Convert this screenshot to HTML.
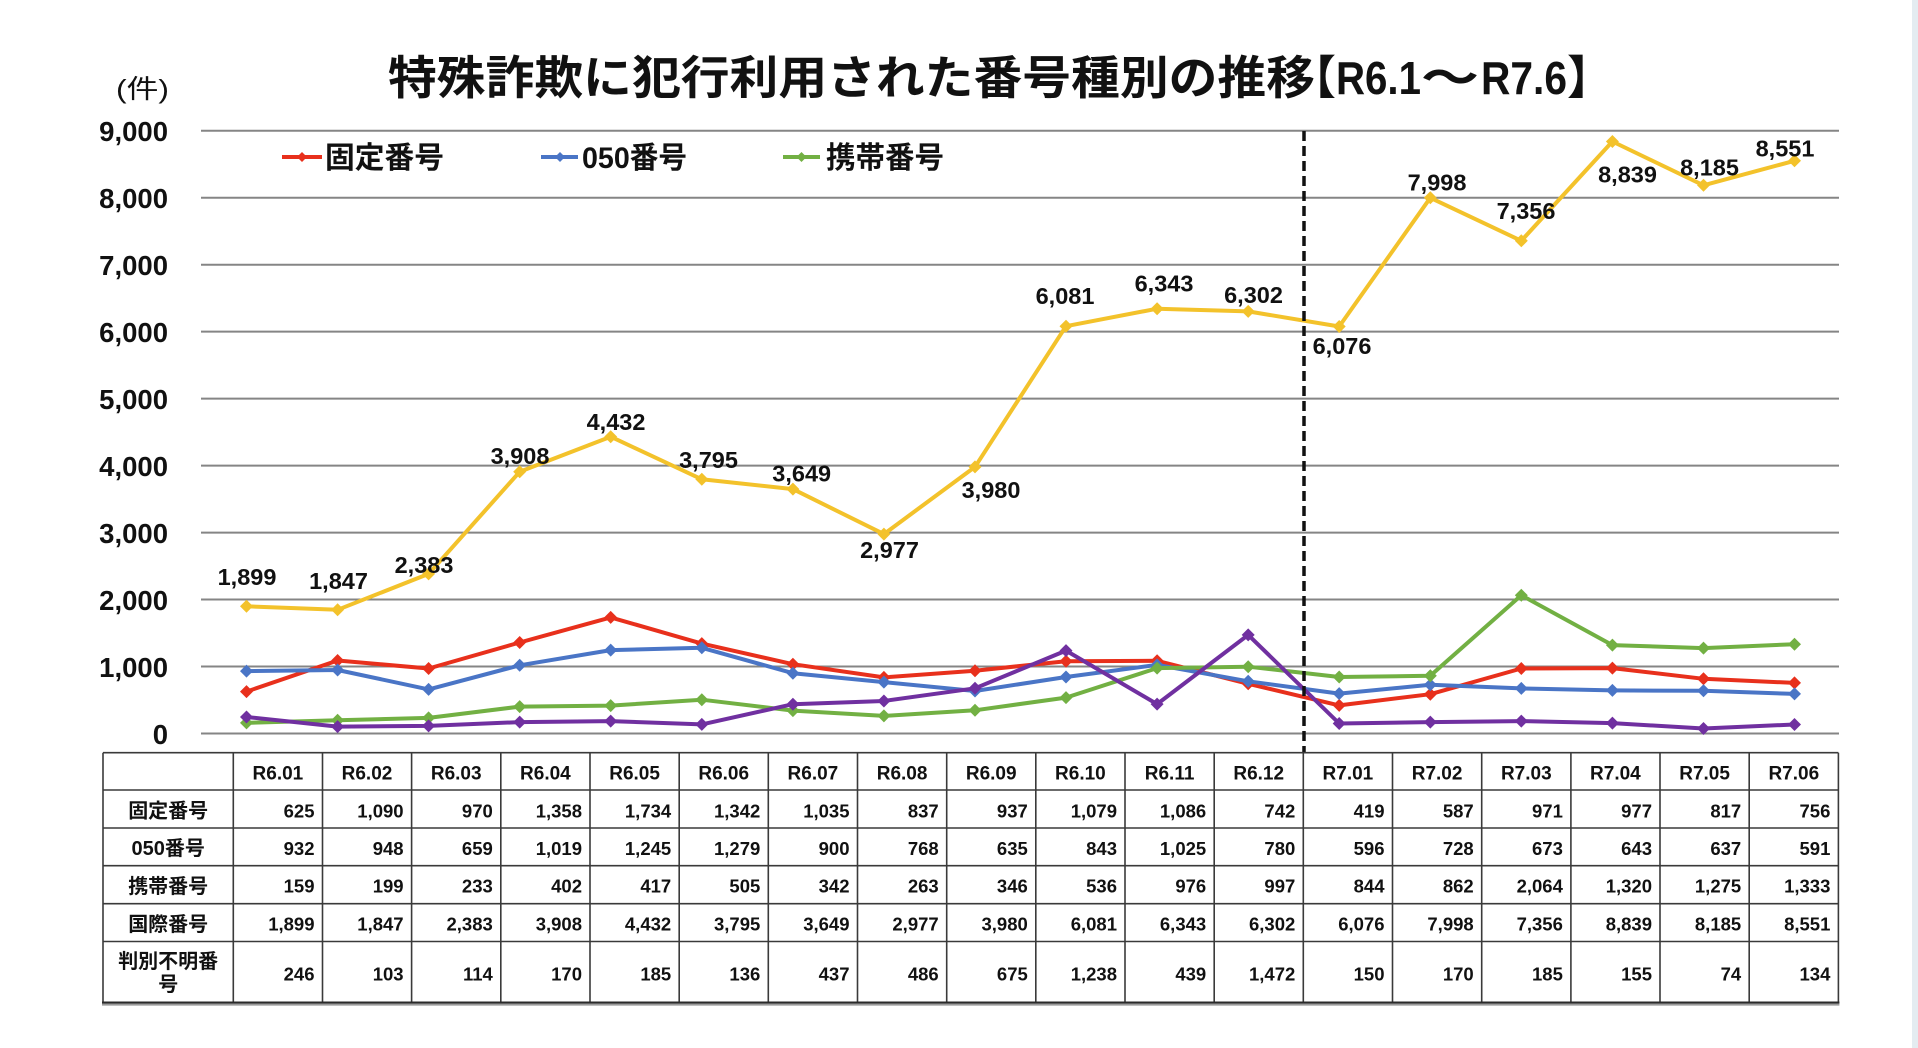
<!DOCTYPE html>
<html><head><meta charset="utf-8"><style>
html,body{margin:0;padding:0;background:#fff;}
svg{display:block;}
text{font-family:"Liberation Sans","Noto Sans CJK JP",sans-serif;fill:#111;}
.b{font-weight:bold;}
</style></head><body>
<svg width="1918" height="1048" viewBox="0 0 1918 1048" xmlns="http://www.w3.org/2000/svg">
<defs>
<marker id="mr" markerWidth="14" markerHeight="14" refX="7" refY="7" markerUnits="userSpaceOnUse" overflow="visible"><path d="M7 0.5L13.5 7L7 13.5L0.5 7Z" fill="#e8301c"/></marker>
<marker id="mb" markerWidth="14" markerHeight="14" refX="7" refY="7" markerUnits="userSpaceOnUse" overflow="visible"><path d="M7 0.5L13.5 7L7 13.5L0.5 7Z" fill="#4a75c6"/></marker>
<marker id="mg" markerWidth="14" markerHeight="14" refX="7" refY="7" markerUnits="userSpaceOnUse" overflow="visible"><path d="M7 0.5L13.5 7L7 13.5L0.5 7Z" fill="#72b043"/></marker>
<marker id="my" markerWidth="14" markerHeight="14" refX="7" refY="7" markerUnits="userSpaceOnUse" overflow="visible"><path d="M7 0.5L13.5 7L7 13.5L0.5 7Z" fill="#f3c22b"/></marker>
<marker id="mp" markerWidth="14" markerHeight="14" refX="7" refY="7" markerUnits="userSpaceOnUse" overflow="visible"><path d="M7 0.5L13.5 7L7 13.5L0.5 7Z" fill="#7030a0"/></marker>
</defs>
<rect x="0" y="0" width="1918" height="1048" fill="#fff"/>
<rect x="1912" y="0" width="6" height="1048" fill="#e4ecf1"/>

<!-- Title -->
<text class="b" x="388" y="94" font-size="46" textLength="927" lengthAdjust="spacingAndGlyphs">特殊詐欺に犯行利用された番号種別の推移</text>
<text class="b" x="1290" y="94" font-size="46">【</text>
<text class="b" x="1336" y="94" font-size="46" textLength="85" lengthAdjust="spacingAndGlyphs">R6.1</text>
<text class="b" x="1421" y="94" font-size="46" textLength="58" lengthAdjust="spacingAndGlyphs">～</text>
<text class="b" x="1481" y="94" font-size="46" textLength="86" lengthAdjust="spacingAndGlyphs">R7.6</text>
<text class="b" x="1567" y="94" font-size="46">】</text>

<text x="116" y="98" font-size="26" textLength="53" lengthAdjust="spacingAndGlyphs">(件)</text>

<!-- Gridlines -->
<g stroke="#858585" stroke-width="2">
<line x1="201" y1="130.7" x2="1839" y2="130.7"/>
<line x1="201" y1="197.7" x2="1839" y2="197.7"/>
<line x1="201" y1="264.7" x2="1839" y2="264.7"/>
<line x1="201" y1="331.6" x2="1839" y2="331.6"/>
<line x1="201" y1="398.6" x2="1839" y2="398.6"/>
<line x1="201" y1="465.6" x2="1839" y2="465.6"/>
<line x1="201" y1="532.6" x2="1839" y2="532.6"/>
<line x1="201" y1="599.5" x2="1839" y2="599.5"/>
<line x1="201" y1="666.5" x2="1839" y2="666.5"/>
<line x1="201" y1="733.5" x2="1839" y2="733.5"/>
</g>

<!-- Y labels -->
<g class="b" font-size="27.5" text-anchor="end">
<text x="168" y="141">9,000</text>
<text x="168" y="208">8,000</text>
<text x="168" y="275">7,000</text>
<text x="168" y="342">6,000</text>
<text x="168" y="409">5,000</text>
<text x="168" y="476">4,000</text>
<text x="168" y="543">3,000</text>
<text x="168" y="610">2,000</text>
<text x="168" y="677">1,000</text>
<text x="168" y="744">0</text>
</g>

<!-- Legend -->
<line x1="282" y1="157" x2="322" y2="157" stroke="#e8301c" stroke-width="4"/>
<path d="M302 152L307 157L302 162L297 157Z" fill="#e8301c"/>
<text class="b" x="325" y="168" font-size="30" textLength="119" lengthAdjust="spacingAndGlyphs">固定番号</text>
<line x1="541" y1="157" x2="578" y2="157" stroke="#4a75c6" stroke-width="4"/>
<path d="M560 152L565 157L560 162L555 157Z" fill="#4a75c6"/>
<text class="b" x="582" y="168" font-size="30" textLength="105" lengthAdjust="spacingAndGlyphs">050番号</text>
<line x1="783" y1="157" x2="820" y2="157" stroke="#72b043" stroke-width="4"/>
<path d="M801.5 152L806.5 157L801.5 162L796.5 157Z" fill="#72b043"/>
<text class="b" x="826" y="168" font-size="30" textLength="118" lengthAdjust="spacingAndGlyphs">携帯番号</text>

<!-- Series -->
<g fill="none" stroke-width="4" stroke-linejoin="round">
<polyline stroke="#e8301c" marker-start="url(#mr)" marker-mid="url(#mr)" marker-end="url(#mr)" points="246.5,691.6 337.6,660.5 428.6,668.5 519.7,642.5 610.7,617.4 701.8,643.6 792.9,664.2 883.9,677.4 975.0,670.7 1066.0,661.2 1157.1,660.8 1248.2,683.8 1339.2,705.4 1430.3,694.2 1521.3,668.5 1612.4,668.1 1703.5,678.8 1794.5,682.9"/>
<polyline stroke="#4a75c6" marker-start="url(#mb)" marker-mid="url(#mb)" marker-end="url(#mb)" points="246.5,671.1 337.6,670.0 428.6,689.4 519.7,665.3 610.7,650.1 701.8,647.8 792.9,673.2 883.9,682.1 975.0,691.0 1066.0,677.0 1157.1,664.9 1248.2,681.3 1339.2,693.6 1430.3,684.7 1521.3,688.4 1612.4,690.4 1703.5,690.8 1794.5,693.9"/>
<polyline stroke="#72b043" marker-start="url(#mg)" marker-mid="url(#mg)" marker-end="url(#mg)" points="246.5,722.9 337.6,720.2 428.6,717.9 519.7,706.6 610.7,705.6 701.8,699.7 792.9,710.6 883.9,715.9 975.0,710.3 1066.0,697.6 1157.1,668.1 1248.2,666.7 1339.2,677.0 1430.3,675.8 1521.3,595.3 1612.4,645.1 1703.5,648.1 1794.5,644.2"/>
<polyline stroke="#f3c22b" marker-start="url(#my)" marker-mid="url(#my)" marker-end="url(#my)" points="246.5,606.3 337.6,609.8 428.6,573.9 519.7,471.8 610.7,436.7 701.8,479.3 792.9,489.1 883.9,534.1 975.0,466.9 1066.0,326.2 1157.1,308.7 1248.2,311.4 1339.2,326.5 1430.3,197.8 1521.3,240.8 1612.4,141.5 1703.5,185.3 1794.5,160.8"/>
<polyline stroke="#7030a0" marker-start="url(#mp)" marker-mid="url(#mp)" marker-end="url(#mp)" points="246.5,717.0 337.6,726.6 428.6,725.9 519.7,722.1 610.7,721.1 701.8,724.4 792.9,704.2 883.9,701.0 975.0,688.3 1066.0,650.6 1157.1,704.1 1248.2,634.9 1339.2,723.5 1430.3,722.1 1521.3,721.1 1612.4,723.1 1703.5,728.5 1794.5,724.5"/>
</g>

<!-- Dashed divider -->
<line x1="1304" y1="131" x2="1304" y2="752" stroke="#111" stroke-width="3.5" stroke-dasharray="10 5"/>

<!-- Data labels (国際番号) -->
<g class="b" font-size="23.5" text-anchor="middle">
<text x="247" y="585">1,899</text>
<text x="338.5" y="589">1,847</text>
<text x="424" y="573">2,383</text>
<text x="520" y="464">3,908</text>
<text x="616" y="430">4,432</text>
<text x="708.5" y="468">3,795</text>
<text x="801.7" y="481.7">3,649</text>
<text x="889.5" y="558">2,977</text>
<text x="991" y="498">3,980</text>
<text x="1065" y="304">6,081</text>
<text x="1164" y="291.7">6,343</text>
<text x="1253.5" y="303">6,302</text>
<text x="1342" y="354">6,076</text>
<text x="1437" y="190.7">7,998</text>
<text x="1526" y="219">7,356</text>
<text x="1627.5" y="182.3">8,839</text>
<text x="1709.5" y="175.7">8,185</text>
<text x="1785" y="156.7">8,551</text>
</g>

<!-- Table grid -->
<g stroke="#3a3a3a" stroke-width="1.6">
<line x1="103" y1="752.7" x2="1838.4" y2="752.7"/>
<line x1="103" y1="790" x2="1838.4" y2="790"/>
<line x1="103" y1="828" x2="1838.4" y2="828"/>
<line x1="103" y1="865.7" x2="1838.4" y2="865.7"/>
<line x1="103" y1="903.7" x2="1838.4" y2="903.7"/>
<line x1="103" y1="941.5" x2="1838.4" y2="941.5"/>
<line x1="103" y1="752.7" x2="103" y2="1003.3"/>
<line x1="233.3" y1="752.7" x2="233.3" y2="1003.3"/>
<line x1="322.5" y1="752.7" x2="322.5" y2="1003.3"/>
<line x1="411.6" y1="752.7" x2="411.6" y2="1003.3"/>
<line x1="500.8" y1="752.7" x2="500.8" y2="1003.3"/>
<line x1="590.0" y1="752.7" x2="590.0" y2="1003.3"/>
<line x1="679.2" y1="752.7" x2="679.2" y2="1003.3"/>
<line x1="768.3" y1="752.7" x2="768.3" y2="1003.3"/>
<line x1="857.5" y1="752.7" x2="857.5" y2="1003.3"/>
<line x1="946.7" y1="752.7" x2="946.7" y2="1003.3"/>
<line x1="1035.8" y1="752.7" x2="1035.8" y2="1003.3"/>
<line x1="1125.0" y1="752.7" x2="1125.0" y2="1003.3"/>
<line x1="1214.2" y1="752.7" x2="1214.2" y2="1003.3"/>
<line x1="1303.3" y1="752.7" x2="1303.3" y2="1003.3"/>
<line x1="1392.5" y1="752.7" x2="1392.5" y2="1003.3"/>
<line x1="1481.7" y1="752.7" x2="1481.7" y2="1003.3"/>
<line x1="1570.9" y1="752.7" x2="1570.9" y2="1003.3"/>
<line x1="1660.0" y1="752.7" x2="1660.0" y2="1003.3"/>
<line x1="1749.2" y1="752.7" x2="1749.2" y2="1003.3"/>
<line x1="1838.4" y1="752.7" x2="1838.4" y2="1003.3"/>
</g>
<line x1="102" y1="1002.6" x2="1839.4" y2="1002.6" stroke="#2a2a2a" stroke-width="2.2"/>
<line x1="102" y1="1004.8" x2="1839.4" y2="1004.8" stroke="#9a9a9a" stroke-width="1.6"/>

<!-- Header row -->
<g class="b" font-size="19" text-anchor="middle">
<text x="277.9" y="779.5">R6.01</text>
<text x="367.0" y="779.5">R6.02</text>
<text x="456.2" y="779.5">R6.03</text>
<text x="545.4" y="779.5">R6.04</text>
<text x="634.6" y="779.5">R6.05</text>
<text x="723.7" y="779.5">R6.06</text>
<text x="812.9" y="779.5">R6.07</text>
<text x="902.1" y="779.5">R6.08</text>
<text x="991.2" y="779.5">R6.09</text>
<text x="1080.4" y="779.5">R6.10</text>
<text x="1169.6" y="779.5">R6.11</text>
<text x="1258.7" y="779.5">R6.12</text>
<text x="1347.9" y="779.5">R7.01</text>
<text x="1437.1" y="779.5">R7.02</text>
<text x="1526.3" y="779.5">R7.03</text>
<text x="1615.4" y="779.5">R7.04</text>
<text x="1704.6" y="779.5">R7.05</text>
<text x="1793.8" y="779.5">R7.06</text>
</g>

<!-- Row labels -->
<g class="b" font-size="20" text-anchor="middle">
<text x="168.2" y="817.5">固定番号</text>
<text x="168.2" y="855.2">050番号</text>
<text x="168.2" y="893">携帯番号</text>
<text x="168.2" y="930.8">国際番号</text>
<text x="168.2" y="968">判別不明番</text>
<text x="168.2" y="991">号</text>
</g>

<!-- Values -->
<g class="b" font-size="18.5" text-anchor="end">
<text x="314.5" y="817.3">625</text><text x="403.6" y="817.3">1,090</text><text x="492.8" y="817.3">970</text><text x="582.0" y="817.3">1,358</text><text x="671.2" y="817.3">1,734</text><text x="760.3" y="817.3">1,342</text><text x="849.5" y="817.3">1,035</text><text x="938.7" y="817.3">837</text><text x="1027.8" y="817.3">937</text><text x="1117.0" y="817.3">1,079</text><text x="1206.2" y="817.3">1,086</text><text x="1295.3" y="817.3">742</text><text x="1384.5" y="817.3">419</text><text x="1473.7" y="817.3">587</text><text x="1562.9" y="817.3">971</text><text x="1652.0" y="817.3">977</text><text x="1741.2" y="817.3">817</text><text x="1830.4" y="817.3">756</text>

<text x="314.5" y="855">932</text><text x="403.6" y="855">948</text><text x="492.8" y="855">659</text><text x="582.0" y="855">1,019</text><text x="671.2" y="855">1,245</text><text x="760.3" y="855">1,279</text><text x="849.5" y="855">900</text><text x="938.7" y="855">768</text><text x="1027.8" y="855">635</text><text x="1117.0" y="855">843</text><text x="1206.2" y="855">1,025</text><text x="1295.3" y="855">780</text><text x="1384.5" y="855">596</text><text x="1473.7" y="855">728</text><text x="1562.9" y="855">673</text><text x="1652.0" y="855">643</text><text x="1741.2" y="855">637</text><text x="1830.4" y="855">591</text>

<text x="314.5" y="892.7">159</text><text x="403.6" y="892.7">199</text><text x="492.8" y="892.7">233</text><text x="582.0" y="892.7">402</text><text x="671.2" y="892.7">417</text><text x="760.3" y="892.7">505</text><text x="849.5" y="892.7">342</text><text x="938.7" y="892.7">263</text><text x="1027.8" y="892.7">346</text><text x="1117.0" y="892.7">536</text><text x="1206.2" y="892.7">976</text><text x="1295.3" y="892.7">997</text><text x="1384.5" y="892.7">844</text><text x="1473.7" y="892.7">862</text><text x="1562.9" y="892.7">2,064</text><text x="1652.0" y="892.7">1,320</text><text x="1741.2" y="892.7">1,275</text><text x="1830.4" y="892.7">1,333</text>

<text x="314.5" y="930.6">1,899</text><text x="403.6" y="930.6">1,847</text><text x="492.8" y="930.6">2,383</text><text x="582.0" y="930.6">3,908</text><text x="671.2" y="930.6">4,432</text><text x="760.3" y="930.6">3,795</text><text x="849.5" y="930.6">3,649</text><text x="938.7" y="930.6">2,977</text><text x="1027.8" y="930.6">3,980</text><text x="1117.0" y="930.6">6,081</text><text x="1206.2" y="930.6">6,343</text><text x="1295.3" y="930.6">6,302</text><text x="1384.5" y="930.6">6,076</text><text x="1473.7" y="930.6">7,998</text><text x="1562.9" y="930.6">7,356</text><text x="1652.0" y="930.6">8,839</text><text x="1741.2" y="930.6">8,185</text><text x="1830.4" y="930.6">8,551</text>

<text x="314.5" y="980.7">246</text><text x="403.6" y="980.7">103</text><text x="492.8" y="980.7">114</text><text x="582.0" y="980.7">170</text><text x="671.2" y="980.7">185</text><text x="760.3" y="980.7">136</text><text x="849.5" y="980.7">437</text><text x="938.7" y="980.7">486</text><text x="1027.8" y="980.7">675</text><text x="1117.0" y="980.7">1,238</text><text x="1206.2" y="980.7">439</text><text x="1295.3" y="980.7">1,472</text><text x="1384.5" y="980.7">150</text><text x="1473.7" y="980.7">170</text><text x="1562.9" y="980.7">185</text><text x="1652.0" y="980.7">155</text><text x="1741.2" y="980.7">74</text><text x="1830.4" y="980.7">134</text>
</g>
</svg>
</body></html>
